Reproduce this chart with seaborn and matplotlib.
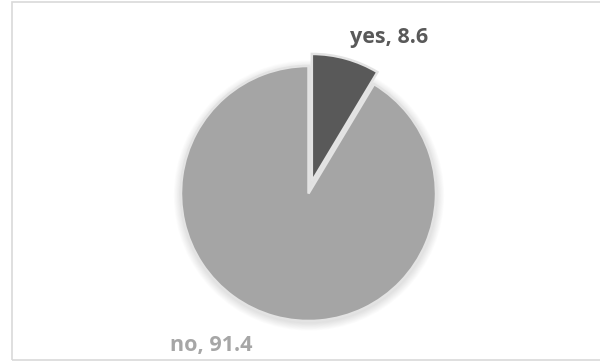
import matplotlib
matplotlib.use("Agg")
import matplotlib.pyplot as plt
import seaborn as sns
from matplotlib.patches import Rectangle, Circle

sns.set_theme(style="white")
plt.rcParams["font.family"] = ["Open Sans", "DejaVu Sans"]

categories = ["yes", "no"]
values = [8.6, 91.4]
slice_colors = ["#595959", "#a5a5a5"]
label_colors = ["#595959", "#a6a6a6"]

W, H = 600, 362
fig = plt.figure(figsize=(W / 100, H / 100), dpi=100)
ax = fig.add_axes([0, 0, 1, 1])
ax.set_xlim(0, W)
ax.set_ylim(0, H)
ax.set_axis_off()

# chart area frame
ax.add_patch(Rectangle((11.5, 2), W, H - 4, fill=False, edgecolor="#d9d9d9", linewidth=1.2))

cx, cy, r = 308.5, H - 193.5, 127.5
pull_out = [12.5, 0.0]  # explode offsets in pixels

# soft shadow under the pie
for i in range(10):
    ax.add_patch(Circle((cx + 0.5, cy - 2), r + 0.5 + i * 0.8, color="black",
                        alpha=0.012, linewidth=0, zorder=1))

wedges, _ = ax.pie(values, colors=slice_colors, startangle=90, counterclock=False,
                   explode=pull_out, center=(cx, cy), radius=r,
                   wedgeprops=dict(edgecolor="#e3e3e3", linewidth=1.8))
for w in wedges:
    w.set_zorder(3)
ax.set_xlim(0, W)
ax.set_ylim(0, H)
ax.set_aspect("equal")

label_pos = [(389, H - 38), (211, H - 345)]
for cat, val, col, (x, y) in zip(categories, values, label_colors, label_pos):
    ax.text(x, y, f"{cat}, {val}", ha="center", va="center", fontsize=15.5,
            fontweight="bold", color=col, zorder=5)

fig.savefig("out.png", dpi=100)
